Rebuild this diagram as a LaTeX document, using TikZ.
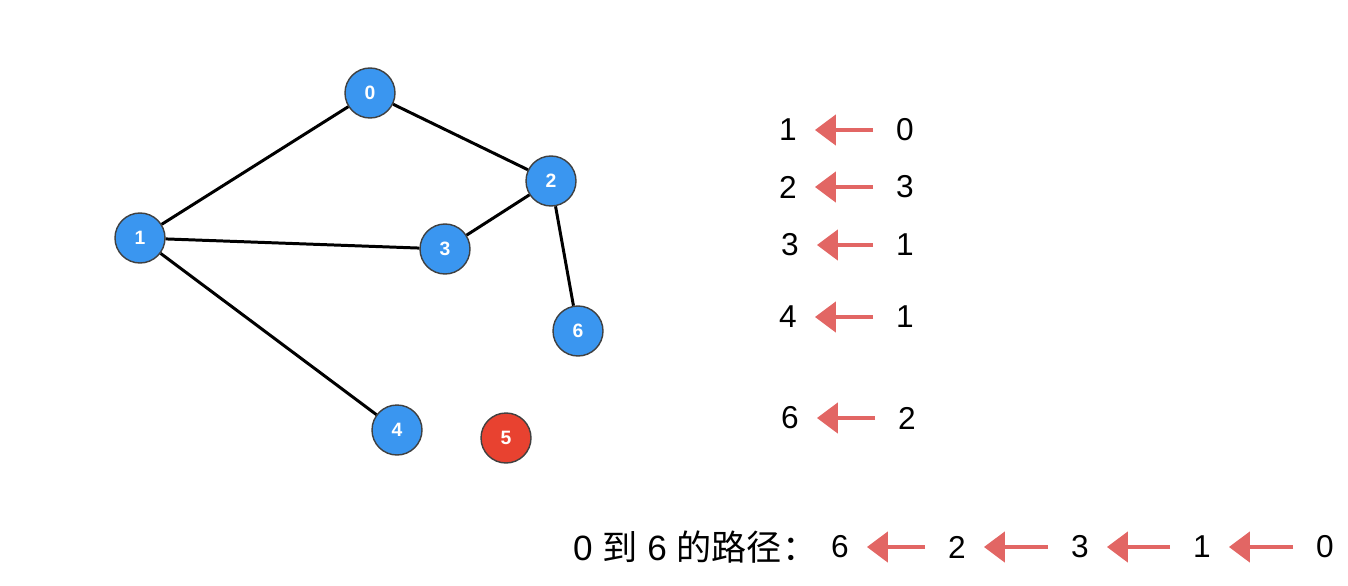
\documentclass[tikz,border=0pt]{standalone}
\usepackage{fontspec}
\setmainfont{Liberation Sans}
\newfontfamily\cjk{Noto Sans CJK SC}
\usepackage{tikz}
\usetikzlibrary{arrows.meta}
\usetikzlibrary{positioning}
\definecolor{vblue}{RGB}{58,150,240}
\definecolor{vred}{RGB}{232,66,48}
\definecolor{chalk}{RGB}{226,102,100}
\tikzstyle{vtx}=[circle,draw=black!75,line width=0.8pt,minimum size=1cm,inner sep=0,
                text=white,font=\fontsize{11}{12}\selectfont\bfseries]
\tikzstyle{lonely}=[vtx,fill=vred]
\tikzstyle{graphedge}=[every edge/.style={draw=black,line width=1.7pt,-}]
\tikzstyle{dig}=[inner sep=1pt,font=\fontsize{18}{21}\selectfont]
\tikzstyle{back}=[every edge/.style={draw=chalk,line width=2.6pt,
                -{Triangle[length=0.42cm,width=0.6cm]},shorten >=0.32cm,shorten <=0.42cm}]

\begin{document}
\begin{tikzpicture}
\path[use as bounding box] (0,0) rectangle (26.96,-11.72);

% graph
\node[vtx,fill=vblue] (n0) at (7.40,-1.86) {0};
\node[vtx,fill=vblue] (n1) at (2.80,-4.76) {1};
\node[vtx,fill=vblue] (n2) at (11.02,-3.62) {2};
\node[vtx,fill=vblue] (n3) at (8.90,-4.98) {3};
\node[vtx,fill=vblue] (n4) at (7.94,-8.60) {4};
\node[lonely] (n5) at (10.12,-8.76) {5};
\node[vtx,fill=vblue] (n6) at (11.56,-6.62) {6};

\path[graphedge]
(n0) edge (n1) edge (n2)
(n1) edge (n3) edge (n4)
(n2) edge (n3) edge (n6)
;

% edgeTo table
\node[dig] (t1) at (15.76,-2.60) {1};
\node[dig] (f1) at (18.10,-2.60) {0};
\node[dig] (t2) at (15.76,-3.74) {2};
\node[dig] (f2) at (18.10,-3.74) {3};
\node[dig] (t3) at (15.80,-4.90) {3};
\node[dig] (f3) at (18.10,-4.90) {1};
\node[dig] (t4) at (15.76,-6.34) {4};
\node[dig] (f4) at (18.10,-6.34) {1};
\node[dig] (t6) at (15.80,-8.36) {6};
\node[dig] (f6) at (18.14,-8.36) {2};

\path[back]
(f1) edge (t1) (f2) edge (t2) (f3) edge (t3)
(f4) edge (t4) (f6) edge (t6)
;

% path from 0 to 6
\node[dig,anchor=west,font=\fontsize{20}{23}\selectfont] (cap) at (11.42,-10.94)
{0 {\cjk 到} 6 {\cjk 的路径：}};
\node[dig] (p6) at (16.80,-10.94) {6};
\node[dig] (p2) at (19.14,-10.94) {2};
\node[dig] (p3) at (21.60,-10.94) {3};
\node[dig] (p1) at (24.04,-10.94) {1};
\node[dig] (p0) at (26.50,-10.94) {0};

\path[back]
(p2) edge (p6) (p3) edge (p2) (p1) edge (p3) (p0) edge (p1)
;
\end{tikzpicture}
\end{document}
